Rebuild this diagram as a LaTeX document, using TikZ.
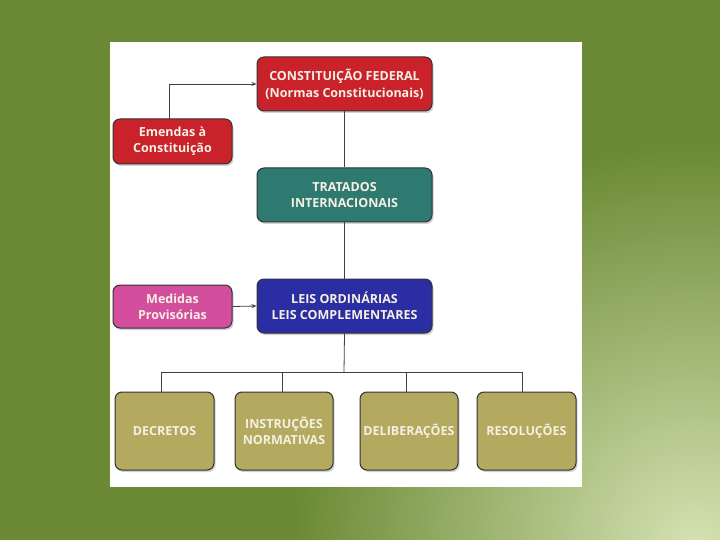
\documentclass[tikz,border=0pt]{standalone}
\usepackage{fontspec}
\setmainfont{Open Sans}
\usetikzlibrary{shadows,arrows.meta}
\definecolor{bggreen}{HTML}{6C8A35}
\definecolor{bglight}{HTML}{D4E2B2}
\definecolor{cfred}{HTML}{C9222B}
\definecolor{tteal}{HTML}{2F7A70}
\definecolor{mpink}{HTML}{D34E9C}
\definecolor{lblue}{HTML}{2B2DA3}
\definecolor{olive}{HTML}{B3A95F}
\definecolor{txt}{HTML}{F6F0E4}
\tikzset{
  box/.style={draw=black!80, line width=1pt, rounded corners=7pt, text=txt,
    font=\bfseries\fontsize{12.5}{16}\selectfont, align=center, inner sep=0pt,
    drop shadow={shadow xshift=1.5pt, shadow yshift=-2pt, opacity=0.35}},
  conn/.style={draw=black!75, line width=0.8pt},
  arr/.style={conn, -{Stealth[length=5pt,width=4pt]}}
}
\begin{document}
\begin{tikzpicture}[x=1pt,y=-1pt]
\useasboundingbox (0,0) rectangle (720,540);
\fill[bggreen] (0,0) rectangle (720,540);
\begin{scope}
\clip (0,0) rectangle (720,540);
\shade[inner color=bglight, outer color=bggreen] (695,545) circle (400);
\end{scope}
\fill[white] (110,42) rectangle (582,487);
% nodes
\node[box, fill=cfred, minimum width=175pt, minimum height=54pt] (cf) at (344.5,84) {CONSTITUIÇÃO FEDERAL\\[1pt](Normas Constitucionais)};
\node[box, fill=cfred, minimum width=119pt, minimum height=45pt] (em) at (172.5,141.5) {Emendas à\\Constituição};
\node[box, fill=tteal, minimum width=175pt, minimum height=54pt] (tr) at (344.5,195) {TRATADOS\\INTERNACIONAIS};
\node[box, fill=mpink, minimum width=119pt, minimum height=43pt] (mp) at (172.5,306.5) {Medidas\\Provisórias};
\node[box, fill=lblue, minimum width=175pt, minimum height=54pt] (le) at (344.5,306) {LEIS ORDINÁRIAS\\LEIS COMPLEMENTARES};
\node[box, fill=olive, minimum width=99pt, minimum height=78pt] (de) at (164.5,431) {DECRETOS};
\node[box, fill=olive, minimum width=98pt, minimum height=78pt] (in) at (284,431) {INSTRUÇÕES\\NORMATIVAS};
\node[box, fill=olive, minimum width=98pt, minimum height=78pt] (dl) at (409,431) {DELIBERAÇÕES};
\node[box, fill=olive, minimum width=99pt, minimum height=78pt] (rs) at (526.5,431) {RESOLUÇÕES};
\coordinate (bus) at (344,372);
% connectors
\draw[conn] (cf.south) -- (tr.north);
\draw[conn] (tr.south) -- (le.north);
\draw[conn] (le.south) -- (bus);
\draw[conn] (161,372) -- (522,372);
\draw[conn] (161,372) -- (161,392);
\draw[conn] (282,372) -- (282,392);
\draw[conn] (406,372) -- (406,392);
\draw[conn] (522,372) -- (522,392);
\draw[arr] (169,119) |- (cf.west);
\draw[arr] (mp.east) -- (le.west);
\end{tikzpicture}
\end{document}
